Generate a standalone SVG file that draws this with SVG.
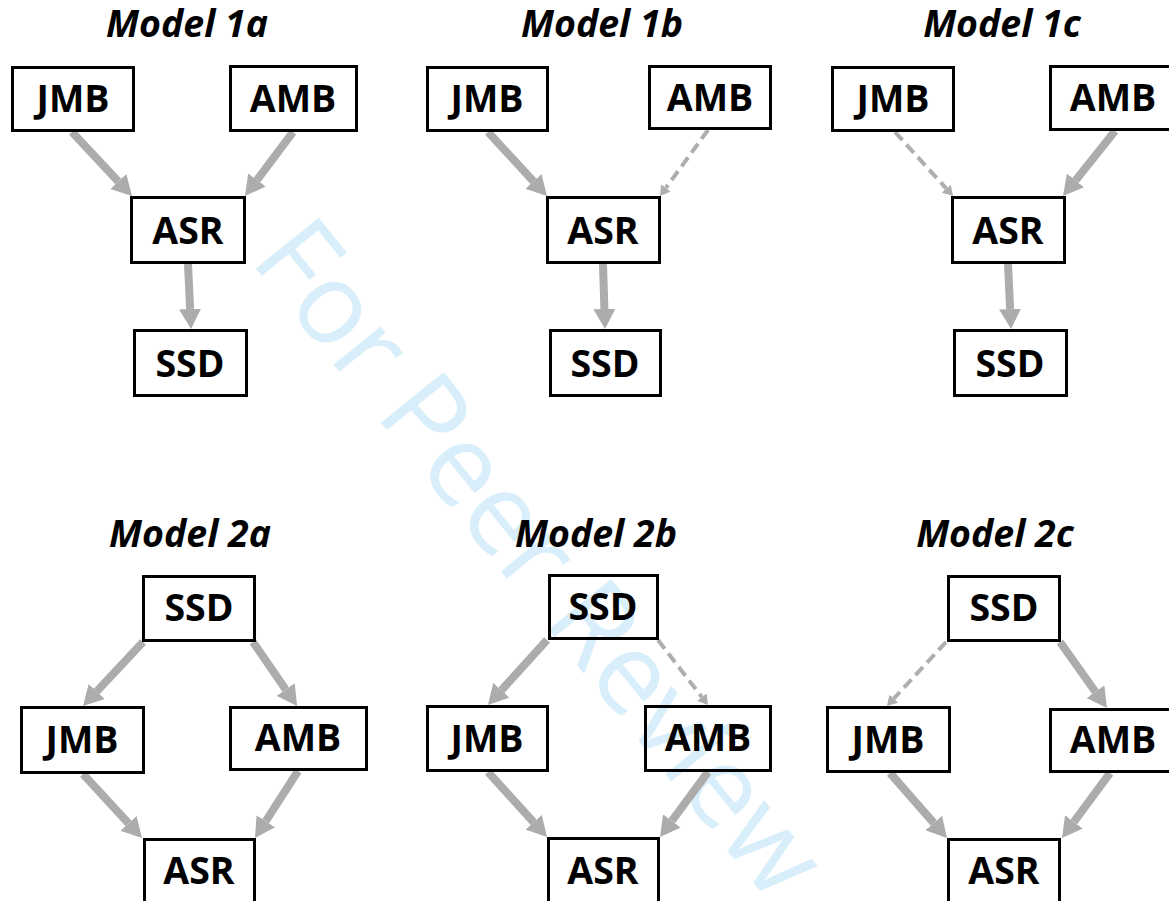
<svg xmlns="http://www.w3.org/2000/svg" width="1169" height="901" viewBox="0 0 1169 901">
<style>
.title{font-family:"Open Sans","Liberation Sans",sans-serif;font-weight:bold;font-style:italic;font-size:37.5px;fill:#000;text-anchor:middle}
.box{fill:none;stroke:#000;stroke-width:3}
.lbl{font-family:"Open Sans","Liberation Sans",sans-serif;font-weight:bold;font-size:37.5px;fill:#000;text-anchor:middle}
.arr{fill:none;stroke:#aeabab;stroke-width:8;marker-end:url(#head)}
.dash{fill:none;stroke:#b0adad;stroke-width:4;stroke-dasharray:11 6;marker-end:url(#headS)}
.wm{font-family:"Open Sans","Liberation Sans",sans-serif;font-size:113px;fill:#d8effb}
</style>
<defs>
<marker id="head" markerUnits="userSpaceOnUse" viewBox="0 -11 20 22" refX="0" refY="0" markerWidth="20" markerHeight="22" orient="auto">
<path d="M0,-11 L20,0 L0,11 Z" fill="#aeabab"/>
</marker>
<marker id="headS" markerUnits="userSpaceOnUse" viewBox="0 -6 10 12" refX="0" refY="0" markerWidth="10" markerHeight="12" orient="auto">
<path d="M0,-6 L10,0 L0,6 Z" fill="#b0adad"/>
</marker>
</defs>
<rect width="1169" height="901" fill="#fff"/>
<text class="wm" x="249" y="260" transform="rotate(51 249 260)" textLength="830" lengthAdjust="spacing">For Peer Review</text>

<g id="titles">
<text class="title" x="187" y="37">Model 1a</text>
<text class="title" x="602" y="37">Model 1b</text>
<text class="title" x="1002" y="37">Model 1c</text>
<text class="title" x="190" y="547">Model 2a</text>
<text class="title" x="596" y="547">Model 2b</text>
<text class="title" x="995" y="547">Model 2c</text>
</g>

<g id="connectors">
<line class="arr" x1="72" y1="132" x2="118.3" y2="181.4"/>
<line class="arr" x1="293" y1="132" x2="257" y2="180"/>
<line class="arr" x1="188" y1="264" x2="190.1" y2="309"/>

<line class="arr" x1="488" y1="132" x2="533.4" y2="181.3"/>
<line class="dash" x1="708" y1="130" x2="665.9" y2="187.9"/>
<line class="arr" x1="603" y1="264" x2="604.4" y2="309"/>

<line class="dash" x1="895" y1="132" x2="946.3" y2="188.6"/>
<line class="arr" x1="1115" y1="131" x2="1075.5" y2="180.4"/>
<line class="arr" x1="1008" y1="264" x2="1010.1" y2="309"/>

<line class="arr" x1="143" y1="642" x2="96.7" y2="691.4"/>
<line class="arr" x1="253" y1="642" x2="285.7" y2="689.5"/>
<line class="arr" x1="83" y1="774" x2="128.4" y2="823.3"/>
<line class="arr" x1="298" y1="771" x2="265.8" y2="821.2"/>

<line class="arr" x1="547" y1="640" x2="501.4" y2="690.2"/>
<line class="dash" x1="658" y1="640" x2="701.9" y2="697.1"/>
<line class="arr" x1="488" y1="772" x2="533.6" y2="822.2"/>
<line class="arr" x1="708" y1="772" x2="671.9" y2="820.9"/>

<line class="dash" x1="946" y1="642" x2="893.8" y2="698.6"/>
<line class="arr" x1="1060" y1="642" x2="1095.4" y2="691.7"/>
<line class="arr" x1="890" y1="773" x2="933.8" y2="823"/>
<line class="arr" x1="1110" y1="773" x2="1073.9" y2="821.9"/>
</g>

<g id="m1a-jmb"><rect class="box" x="12.5" y="67.5" width="121" height="63"/><text class="lbl" x="73" y="112">JMB</text></g>
<g id="m1a-amb"><rect class="box" x="230.5" y="66.5" width="126" height="64"/><text class="lbl" x="293" y="112">AMB</text></g>
<g id="m1a-asr"><rect class="box" x="131.5" y="197.5" width="113" height="65"/><text class="lbl" x="188" y="244">ASR</text></g>
<g id="m1a-ssd"><rect class="box" x="134.5" y="330.5" width="112" height="65"/><text class="lbl" x="190" y="377">SSD</text></g>

<g id="m1b-jmb"><rect class="box" x="427.5" y="67.5" width="120" height="63"/><text class="lbl" x="487" y="112">JMB</text></g>
<g id="m1b-amb"><rect class="box" x="649.5" y="66.5" width="121" height="62"/><text class="lbl" x="710" y="111">AMB</text></g>
<g id="m1b-asr"><rect class="box" x="547.5" y="197.5" width="112" height="65"/><text class="lbl" x="603" y="244">ASR</text></g>
<g id="m1b-ssd"><rect class="box" x="550.5" y="330.5" width="110" height="65"/><text class="lbl" x="605" y="377">SSD</text></g>

<g id="m1c-jmb"><rect class="box" x="832.5" y="67.5" width="121" height="63"/><text class="lbl" x="893" y="112">JMB</text></g>
<g id="m1c-amb"><rect class="box" x="1050.5" y="66.5" width="125" height="63"/><text class="lbl" x="1113" y="111">AMB</text></g>
<g id="m1c-asr"><rect class="box" x="952.5" y="197.5" width="112" height="65"/><text class="lbl" x="1008" y="244">ASR</text></g>
<g id="m1c-ssd"><rect class="box" x="954.5" y="330.5" width="112" height="65"/><text class="lbl" x="1010" y="377">SSD</text></g>

<g id="m2a-ssd"><rect class="box" x="143.5" y="576.5" width="111" height="64"/><text class="lbl" x="199" y="621">SSD</text></g>
<g id="m2a-jmb"><rect class="box" x="21.5" y="707.5" width="122" height="65"/><text class="lbl" x="82" y="753">JMB</text></g>
<g id="m2a-amb"><rect class="box" x="230.5" y="707.5" width="136" height="62"/><text class="lbl" x="298" y="751">AMB</text></g>
<g id="m2a-asr"><rect class="box" x="144.5" y="839.5" width="110" height="66"/><text class="lbl" x="199" y="884">ASR</text></g>

<g id="m2b-ssd"><rect class="box" x="549.5" y="575.5" width="108" height="63"/><text class="lbl" x="603" y="620">SSD</text></g>
<g id="m2b-jmb"><rect class="box" x="427.5" y="706.5" width="120" height="64"/><text class="lbl" x="487" y="752">JMB</text></g>
<g id="m2b-amb"><rect class="box" x="645.5" y="706.5" width="125" height="64"/><text class="lbl" x="708" y="751">AMB</text></g>
<g id="m2b-asr"><rect class="box" x="548.5" y="838.5" width="110" height="66"/><text class="lbl" x="603" y="884">ASR</text></g>

<g id="m2c-ssd"><rect class="box" x="948.5" y="576.5" width="111" height="64"/><text class="lbl" x="1004" y="621">SSD</text></g>
<g id="m2c-jmb"><rect class="box" x="827.5" y="707.5" width="122" height="64"/><text class="lbl" x="888" y="753">JMB</text></g>
<g id="m2c-amb"><rect class="box" x="1050.5" y="709.5" width="125" height="62"/><text class="lbl" x="1113" y="753">AMB</text></g>
<g id="m2c-asr"><rect class="box" x="948.5" y="839.5" width="111" height="66"/><text class="lbl" x="1004" y="884">ASR</text></g>
</svg>
